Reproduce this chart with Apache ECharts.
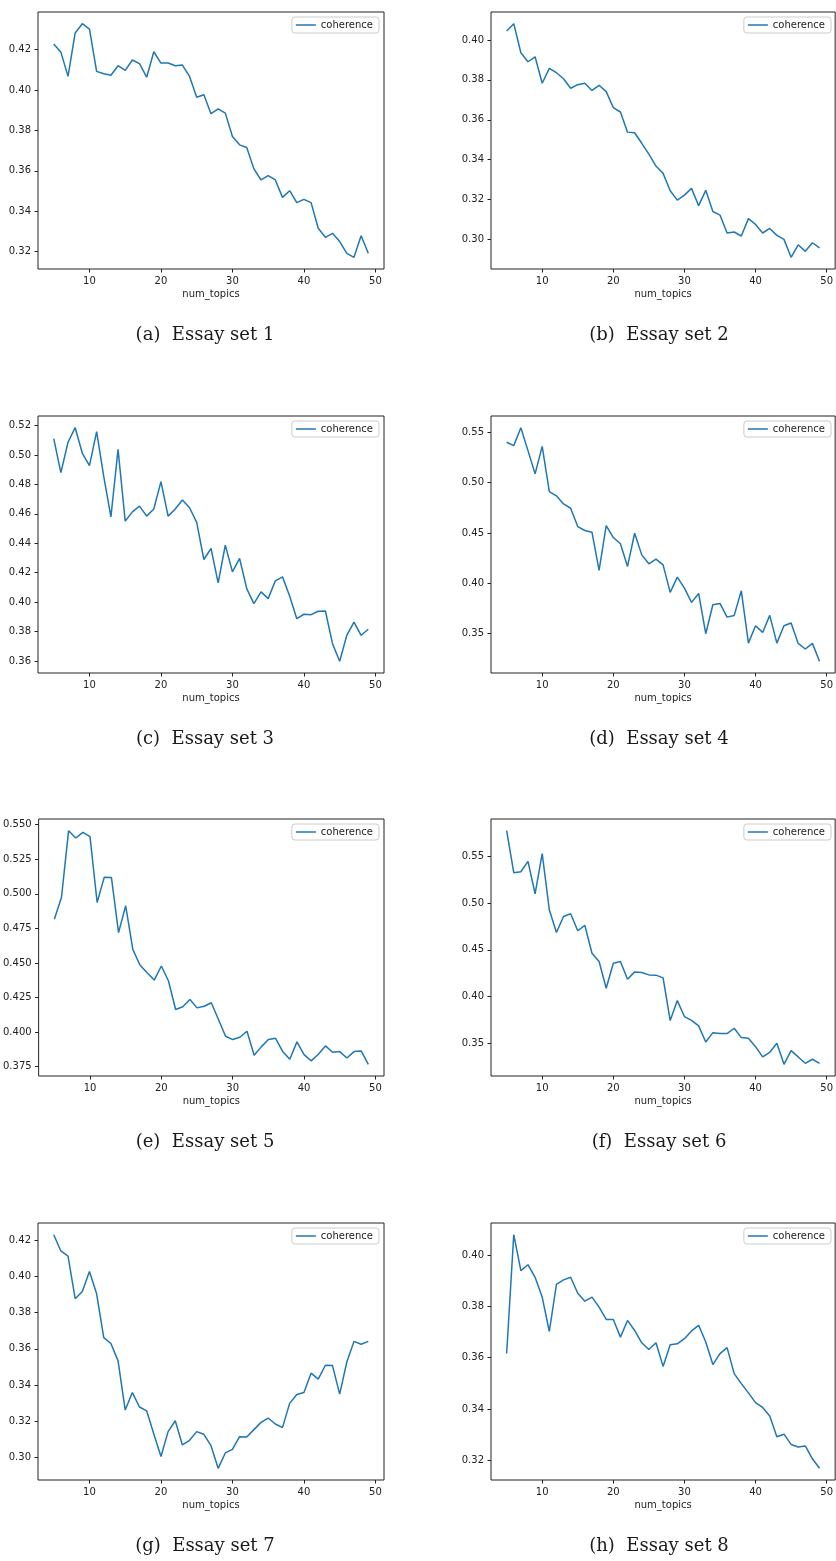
<!DOCTYPE html>
<html>
<head>
<meta charset="utf-8">
<script src="https://cdn.jsdelivr.net/npm/echarts@6.0.0/dist/echarts.min.js"></script>
<style>
  html, body { margin: 0; padding: 0; background: #fff; }
  #chart { width: 836px; height: 1561px; }
</style>
</head>
<body>
<div id="chart"></div>
<script>
// x values shared by all eight plots
var numTopics = [5,6,7,8,9,10,11,12,13,14,15,16,17,18,19,20,21,22,23,24,25,26,27,28,29,30,31,32,33,34,35,36,37,38,39,40,41,42,43,44,45,46,47,48,49];
var ticksX = ['10','20','30','40','50'];

// coherence per essay set
var coherenceSet1 = [0.4228,0.4188,0.4068,0.4283,0.4329,0.4302,0.4093,0.4081,0.4074,0.4121,0.4098,0.4149,0.4131,0.4064,0.4190,0.4134,0.4134,0.4121,0.4124,0.4068,0.3965,0.3977,0.3883,0.3907,0.3886,0.3770,0.3729,0.3716,0.3610,0.3555,0.3577,0.3555,0.3469,0.3502,0.3443,0.3459,0.3443,0.3316,0.3271,0.3291,0.3250,0.3192,0.3172,0.3279,0.3192];
var coherenceSet2 = [0.4045,0.4082,0.3936,0.3891,0.3916,0.3783,0.3858,0.3836,0.3806,0.3758,0.3776,0.3783,0.3747,0.3773,0.3741,0.3661,0.3639,0.3538,0.3535,0.3482,0.3428,0.3368,0.3331,0.3244,0.3197,0.3222,0.3256,0.3169,0.3246,0.3140,0.3122,0.3032,0.3037,0.3017,0.3104,0.3075,0.3032,0.3055,0.3020,0.3000,0.2910,0.2973,0.2940,0.2983,0.2957];
var coherenceSet3 = [0.5111,0.4880,0.5087,0.5186,0.5012,0.4928,0.5159,0.4853,0.4580,0.5039,0.4551,0.4614,0.4653,0.4585,0.4633,0.4819,0.4585,0.4633,0.4694,0.4642,0.4542,0.4290,0.4365,0.4131,0.4387,0.4206,0.4297,0.4092,0.3990,0.4070,0.4024,0.4145,0.4172,0.4042,0.3888,0.3918,0.3915,0.3938,0.3940,0.3718,0.3598,0.3775,0.3865,0.3775,0.3816];
var coherenceSet4 = [0.5401,0.5368,0.5546,0.5318,0.5087,0.5361,0.4912,0.4869,0.4789,0.4746,0.4564,0.4525,0.4508,0.4128,0.4574,0.4455,0.4393,0.4168,0.4498,0.4283,0.4194,0.4240,0.4184,0.3910,0.4062,0.3953,0.3811,0.3900,0.3500,0.3788,0.3801,0.3665,0.3682,0.3926,0.3407,0.3579,0.3513,0.3682,0.3407,0.3579,0.3606,0.3404,0.3348,0.3404,0.3226];
var coherenceSet5 = [0.4816,0.4973,0.5456,0.5403,0.5444,0.5413,0.4937,0.5120,0.5118,0.4719,0.4913,0.4598,0.4485,0.4429,0.4376,0.4478,0.4369,0.4163,0.4183,0.4236,0.4175,0.4187,0.4212,0.4091,0.3970,0.3946,0.3963,0.4006,0.3832,0.3893,0.3946,0.3955,0.3860,0.3803,0.3929,0.3837,0.3792,0.3840,0.3900,0.3854,0.3859,0.3813,0.3859,0.3864,0.3767];
var coherenceSet6 = [0.5775,0.5325,0.5336,0.5446,0.5100,0.5529,0.4929,0.4686,0.4857,0.4886,0.4704,0.4761,0.4464,0.4375,0.4089,0.4357,0.4375,0.4186,0.4264,0.4257,0.4232,0.4229,0.4200,0.3743,0.3957,0.3786,0.3746,0.3686,0.3514,0.3614,0.3604,0.3604,0.3661,0.3561,0.3554,0.3464,0.3354,0.3404,0.3500,0.3275,0.3421,0.3354,0.3286,0.3329,0.3286];
var coherenceSet7 = [0.4231,0.4141,0.4112,0.3877,0.3917,0.4027,0.3904,0.3662,0.3629,0.3533,0.3261,0.3358,0.3278,0.3257,0.3129,0.3004,0.3142,0.3202,0.3068,0.3094,0.3142,0.3127,0.3064,0.2939,0.3024,0.3044,0.3114,0.3112,0.3153,0.3193,0.3217,0.3184,0.3164,0.3298,0.3347,0.3358,0.3465,0.3432,0.3509,0.3507,0.3349,0.3527,0.3641,0.3625,0.3641];
var coherenceSet8 = [0.3616,0.4079,0.3939,0.3962,0.3913,0.3836,0.3702,0.3885,0.3903,0.3913,0.3851,0.3820,0.3836,0.3797,0.3749,0.3749,0.3680,0.3745,0.3706,0.3658,0.3632,0.3658,0.3566,0.3650,0.3654,0.3674,0.3704,0.3726,0.3661,0.3573,0.3616,0.3639,0.3538,0.3499,0.3463,0.3425,0.3406,0.3373,0.3292,0.3302,0.3262,0.3252,0.3256,0.3206,0.3169];

// y tick labels per plot
var ticksY1 = ['0.32','0.34','0.36','0.38','0.40','0.42'];
var ticksY2 = ['0.30','0.32','0.34','0.36','0.38','0.40'];
var ticksY3 = ['0.36','0.38','0.40','0.42','0.44','0.46','0.48','0.50','0.52'];
var ticksY4 = ['0.35','0.40','0.45','0.50','0.55'];
var ticksY5 = ['0.375','0.400','0.425','0.450','0.475','0.500','0.525','0.550'];
var ticksY6 = ['0.35','0.40','0.45','0.50','0.55'];
var ticksY7 = ['0.30','0.32','0.34','0.36','0.38','0.40','0.42'];
var ticksY8 = ['0.32','0.34','0.36','0.38','0.40'];

var captions = ['(a)  Essay set 1','(b)  Essay set 2','(c)  Essay set 3','(d)  Essay set 4',
                '(e)  Essay set 5','(f)  Essay set 6','(g)  Essay set 7','(h)  Essay set 8'];
var seriesName = 'coherence';

(function () {
  var sets = [coherenceSet1,coherenceSet2,coherenceSet3,coherenceSet4,coherenceSet5,coherenceSet6,coherenceSet7,coherenceSet8];
  var yTicks = [ticksY1,ticksY2,ticksY3,ticksY4,ticksY5,ticksY6,ticksY7,ticksY8];

  var blue = '#1f77b4';
  var ink = '#222';
  var gridW = 346, gridH = 257, rowStep = 403.7;

  // matplotlib-style autoscale: 5% margin on each side
  function margins(arr) {
    var lo = Math.min.apply(null, arr), hi = Math.max.apply(null, arr);
    var pad = (hi - lo) * 0.05;
    return [lo - pad, hi + pad];
  }

  function labelFor(list) {
    return function (v) {
      for (var k = 0; k < list.length; k++) {
        if (Math.abs(parseFloat(list[k]) - v) < 1e-9) return list[k];
      }
      return '';
    };
  }

  var xr = margins(numTopics);
  var grids = [], xAxes = [], yAxes = [], series = [], legends = [], graphics = [];

  for (var i = 0; i < 8; i++) {
    var col = i % 2, row = Math.floor(i / 2);
    var gLeft = col ? 491 : 38;
    var gTop = Math.round(12 + row * rowStep);
    var yr = margins(sets[i]);
    var xVals = ticksX.map(Number);
    var yVals = yTicks[i].map(Number);

    grids.push({
      left: gLeft, top: gTop, width: gridW, height: gridH,
      show: true, borderColor: ink, borderWidth: 1
    });

    xAxes.push({
      type: 'value', gridIndex: i, min: xr[0], max: xr[1],
      name: 'num_topics', nameLocation: 'middle', nameGap: 20,
      nameTextStyle: { color: ink, fontSize: 10, fontFamily: 'DejaVu Sans' },
      axisLine: { show: false },
      axisTick: { show: true, inside: false, length: 3.5, lineStyle: { color: ink, width: 1 }, customValues: xVals },
      axisLabel: { color: ink, fontSize: 10, fontFamily: 'DejaVu Sans', margin: 7, customValues: xVals, formatter: labelFor(ticksX) },
      splitLine: { show: false }
    });

    yAxes.push({
      type: 'value', gridIndex: i, min: yr[0], max: yr[1],
      axisLine: { show: false },
      axisTick: { show: true, inside: false, length: 3.5, lineStyle: { color: ink, width: 1 }, customValues: yVals },
      axisLabel: { color: ink, fontSize: 10, fontFamily: 'DejaVu Sans', margin: 7, customValues: yVals, formatter: labelFor(yTicks[i]) },
      splitLine: { show: false }
    });

    var pts = [];
    for (var k = 0; k < numTopics.length; k++) pts.push([numTopics[k], sets[i][k]]);

    series.push({
      name: seriesName, type: 'line', xAxisIndex: i, yAxisIndex: i,
      data: pts,
      showSymbol: false, symbol: 'none',
      lineStyle: { color: blue, width: 1.5 },
      itemStyle: { color: blue },
      animation: false
    });

    legends.push({
      data: [seriesName],
      right: col ? 5 : 836 - (gLeft + gridW) + 5,
      top: gTop + 5,
      icon: 'rect', itemWidth: 20, itemHeight: 1.5,
      padding: [3, 6, 3, 4],
      borderColor: '#ccc', borderWidth: 1, borderRadius: 3,
      backgroundColor: 'rgba(255,255,255,0.8)',
      selectedMode: false,
      textStyle: { color: ink, fontSize: 10, fontFamily: 'DejaVu Sans' }
    });

    graphics.push({
      type: 'text',
      x: col ? 659 : 205,
      y: Math.round(335 + row * rowStep),
      style: {
        text: captions[i], fill: '#1a1a1a',
        font: '18px "DejaVu Serif", "Liberation Serif", serif',
        textAlign: 'center', textVerticalAlign: 'middle'
      }
    });
  }

  var chart = echarts.init(document.getElementById('chart'), null, { renderer: 'canvas' });
  chart.setOption({
    backgroundColor: '#fff',
    animation: false,
    grid: grids,
    xAxis: xAxes,
    yAxis: yAxes,
    legend: legends,
    series: series,
    graphic: graphics
  });
})();
</script>
</body>
</html>
